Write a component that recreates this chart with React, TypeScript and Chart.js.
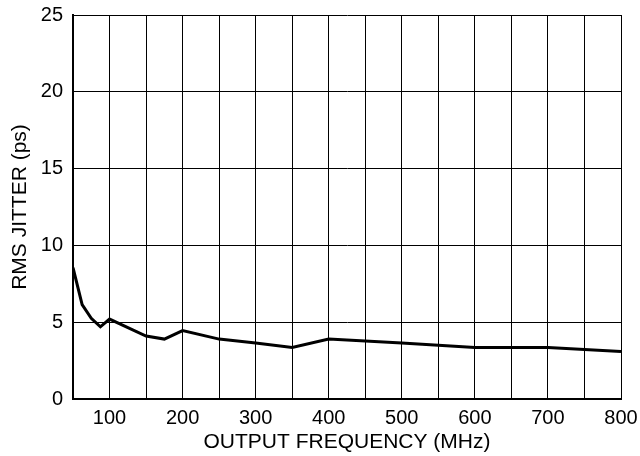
import React, { useEffect, useRef } from 'react';
import { Chart, registerables } from 'chart.js';

Chart.register(...registerables);

// Output frequency (MHz) and RMS jitter (ps)
const frequencies = [50, 62.5, 75, 87.5, 100, 150, 175, 200, 250, 300, 350, 400, 500, 600, 700, 800];
const jitter = [8.55, 6.15, 5.25, 4.7, 5.2, 4.1, 3.9, 4.45, 3.9, 3.65, 3.35, 3.9, 3.65, 3.35, 3.35, 3.1];

const xMin = 50;
const xMax = 800;
const yMin = 0;
const yMax = 25;

const FONT = '"Liberation Sans", Arial, Helvetica, sans-serif';

export default function App() {
  const canvasRef = useRef<HTMLCanvasElement | null>(null);

  useEffect(() => {
    document.body.style.margin = '0';
    if (!canvasRef.current) return;

    const chart = new Chart(canvasRef.current, {
      type: 'line',
      data: {
        datasets: [
          {
            data: frequencies.map((f, i) => ({ x: f, y: jitter[i] })),
            borderColor: '#000',
            borderWidth: 3,
            pointRadius: 0,
            tension: 0,
            fill: false,
          },
        ],
      },
      options: {
        animation: false,
        responsive: true,
        maintainAspectRatio: false,
        layout: { padding: { top: 15, right: 19, left: 0, bottom: 0 } },
        plugins: {
          legend: { display: false },
          tooltip: { enabled: false },
        },
        scales: {
          x: {
            type: 'linear',
            min: xMin,
            max: xMax,
            afterFit: (s: any) => {
              // fixed box, no extra room for label overflow
              s.height = 57;
              s.paddingLeft = 0;
              s.paddingRight = 0;
            },
            border: { color: '#000', width: 2 },
            grid: { color: '#000', lineWidth: 1, drawTicks: false },
            ticks: {
              stepSize: 50,
              padding: 7,
              color: '#000',
              font: { family: FONT, size: 20 },
              maxRotation: 0,
              autoSkip: false,
              callback: (v: any) => (Number(v) % 100 === 0 ? String(v) : ''),
            },
            title: {
              display: true,
              text: 'OUTPUT FREQUENCY (MHz)',
              color: '#000',
              font: { family: FONT, size: 21 },
              padding: { top: 0, bottom: 1 },
            },
          },
          y: {
            min: yMin,
            max: yMax,
            afterFit: (s: any) => {
              s.width = 73;
              s.paddingTop = 0;
              s.paddingBottom = 0;
            },
            border: { color: '#000', width: 2 },
            grid: { color: '#000', lineWidth: 1, drawTicks: false },
            ticks: {
              stepSize: 5,
              padding: 10,
              color: '#000',
              font: { family: FONT, size: 20 },
            },
            title: {
              display: true,
              text: 'RMS JITTER (ps)',
              color: '#000',
              font: { family: FONT, size: 21 },
              padding: { top: 8, bottom: 0 },
            },
          },
        },
      },
    });

    return () => {
      chart.destroy();
    };
  }, []);

  return (
    <div style={{ width: 640, height: 456, position: 'relative', background: '#fff' }}>
      <canvas ref={canvasRef} />
    </div>
  );
}
